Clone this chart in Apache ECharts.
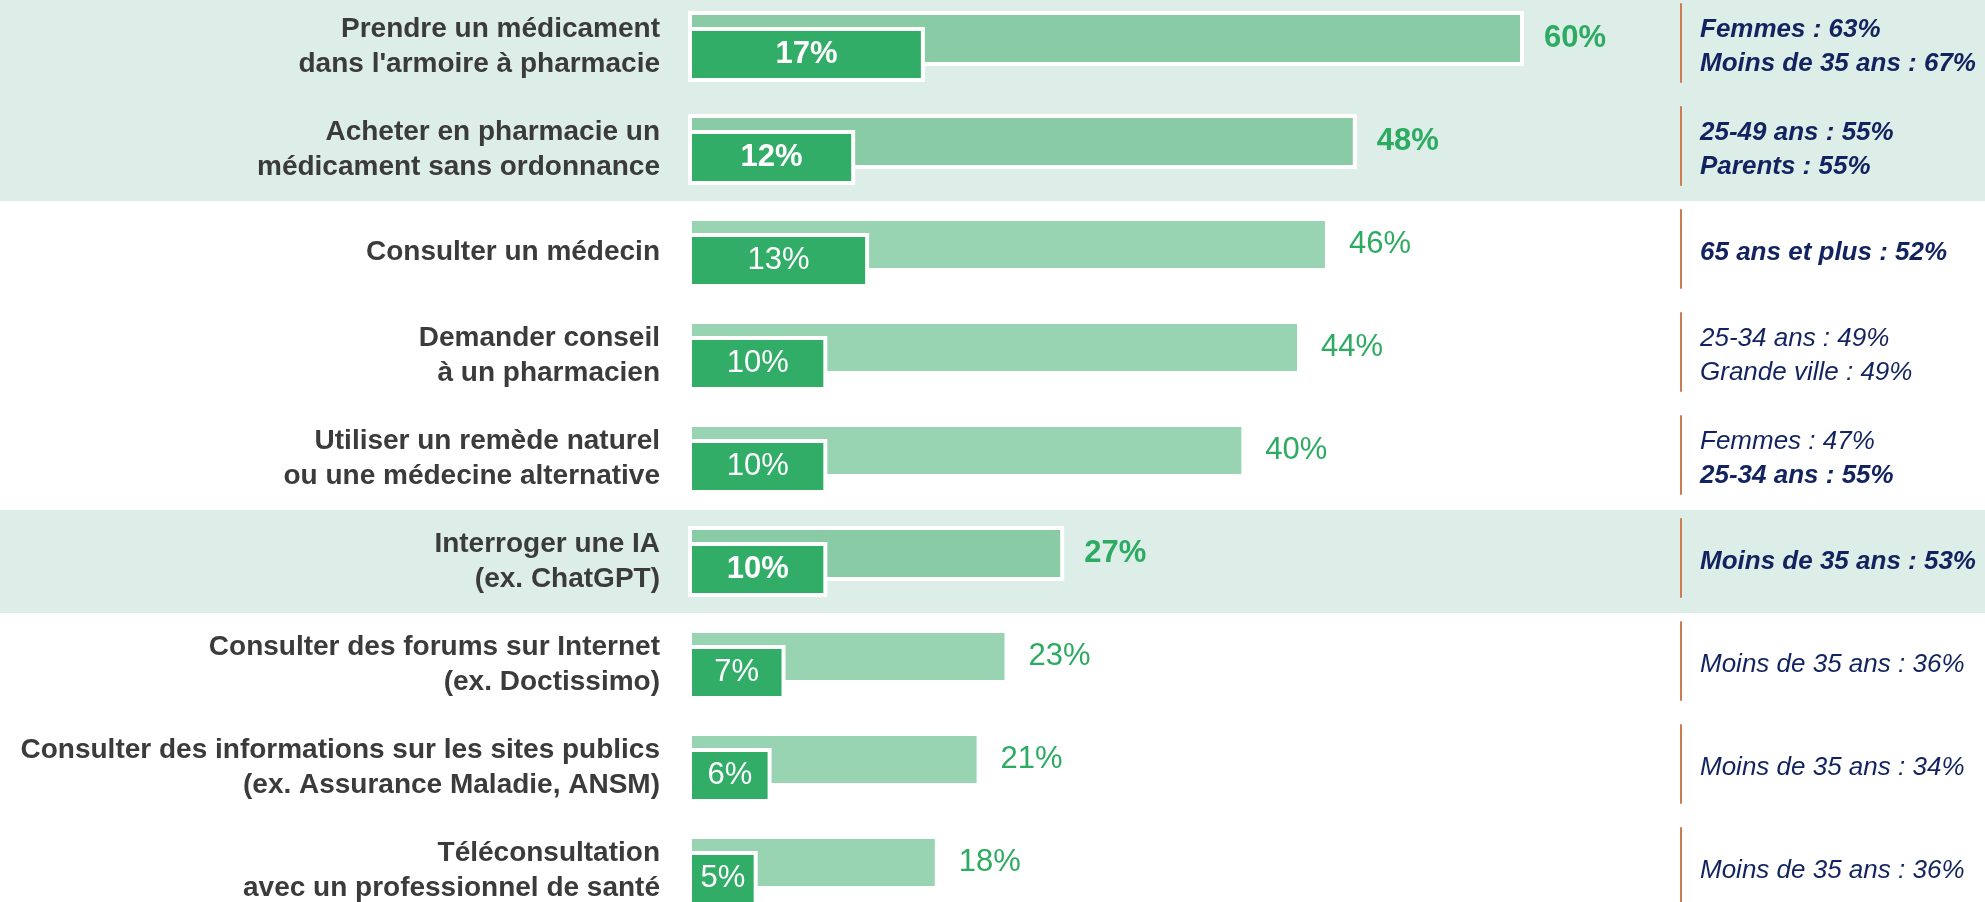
<!DOCTYPE html>
<html>
<head>
<meta charset="utf-8">
<script src="https://cdn.jsdelivr.net/npm/echarts@6/dist/echarts.min.js"></script>
<style>
	html, body { margin: 0; padding: 0; background: #ffffff; overflow: hidden; }
	#solutionsBar { position: absolute; left: 0; top: -5px; width: 1985px; height: 927px; }
</style>
</head>
<body>
<div id="solutionsBar"></div>
<script>
var categories = [
	'Prendre un médicament\ndans l\'armoire à pharmacie',
	'Acheter en pharmacie un\nmédicament sans ordonnance',
	'Consulter un médecin',
	'Demander conseil\nà un pharmacien',
	'Utiliser un remède naturel\nou une médecine alternative',
	'Interroger une IA\n(ex. ChatGPT)',
	'Consulter des forums sur Internet\n(ex. Doctissimo)',
	'Consulter des informations sur les sites publics\n(ex. Assurance Maladie, ANSM)',
	'Téléconsultation\navec un professionnel de santé'
];
// total (light bar) and first choice (dark bar), in %
var totalValues = [60, 48, 46, 44, 40, 27, 23, 21, 18];
var firstValues = [17, 12, 13, 10, 10, 10, 7, 6, 5];
// rows highlighted with a band
var highlightRows = [0, 1, 5];
// sub-group notes on the right
var noteLines = [
	['Femmes : 63%', 'Moins de 35 ans : 67%'],
	['25-49 ans : 55%', 'Parents : 55%'],
	['65 ans et plus : 52%'],
	['25-34 ans : 49%', 'Grande ville : 49%'],
	['Femmes : 47%', '25-34 ans : 55%'],
	['Moins de 35 ans : 53%'],
	['Moins de 35 ans : 36%'],
	['Moins de 35 ans : 34%'],
	['Moins de 35 ans : 36%']
];
var noteBold = [
	[1, 1],
	[1, 1],
	[1],
	[0, 0],
	[0, 1],
	[1],
	[0],
	[0],
	[0]
];

var sb = {
	colors : {
		band : '#ddede7',
		lightHi : '#88cba5',
		light : '#98d4b1',
		dark : '#31ad68',
		label : '#2eab62',
		text : '#3b3b3b',
		note : '#12235f',
		sep : '#cd7b50'
	},

	isHi : function (i){
		return highlightRows.indexOf(i) >= 0;
	},

	totalData : function (){
		var out = [];
		for (var i = 0; i < totalValues.length; i++) {
			var hi = sb.isHi(i);
			out.push({
				value : totalValues[i],
				itemStyle : { color : hi ? sb.colors.lightHi : sb.colors.light },
				label : { fontWeight : hi ? 'bold' : 'normal' }
			});
		}
		return out;
	},

	firstData : function (){
		var out = [];
		for (var i = 0; i < firstValues.length; i++) {
			out.push({
				value : firstValues[i],
				label : { fontWeight : sb.isHi(i) ? 'bold' : 'normal' }
			});
		}
		return out;
	},

	bandColors : function (){
		var out = [];
		for (var i = 0; i < categories.length; i++) {
			out.push(sb.isHi(i) ? sb.colors.band : '#ffffff');
		}
		return out;
	},

	noteText : function (value, index){
		var lines = noteLines[index] || [];
		var parts = [];
		for (var j = 0; j < lines.length; j++) {
			parts.push('{' + (noteBold[index][j] ? 'b' : 'n') + '|' + lines[j] + '}');
		}
		return parts.join('\n');
	},

	options : function (){
		return {
			backgroundColor : '#ffffff',
			animation : false,
			grid : [
				{ left : 0, right : 0, top : 0, bottom : 0 },
				{ left : 688, width : 836, top : 0, bottom : 0 }
			],
			xAxis : [
				{ gridIndex : 0, type : 'value', show : false },
				{ gridIndex : 1, type : 'value', min : 0, max : 60, show : false }
			],
			yAxis : [
				{
					gridIndex : 0, type : 'category', inverse : true, data : categories,
					axisLine : { show : false }, axisTick : { show : false },
					axisLabel : { show : false },
					splitArea : { show : true, interval : 0, areaStyle : { color : sb.bandColors() } }
				},
				{
					gridIndex : 1, type : 'category', inverse : true, data : categories,
					axisLine : { show : false }, axisTick : { show : false },
					axisLabel : {
						interval : 0, margin : 28,
						color : sb.colors.text, fontFamily : 'Liberation Sans',
						fontSize : 28, fontWeight : 'bold', lineHeight : 35, align : 'right'
					}
				},
				{
					gridIndex : 1, type : 'category', inverse : true, data : categories,
					position : 'right', offset : 157,
					axisLine : {
						show : true,
						lineStyle : { color : sb.colors.sep, width : 2, type : [78, 25], dashOffset : 94 }
					},
					axisTick : { show : false },
					axisLabel : {
						interval : 0, margin : 19, align : 'left',
						formatter : sb.noteText,
						rich : {
							b : { fontFamily : 'Liberation Sans', fontSize : 26, fontStyle : 'italic', fontWeight : 'bold', color : sb.colors.note, lineHeight : 34 },
							n : { fontFamily : 'Liberation Sans', fontSize : 26, fontStyle : 'italic', fontWeight : 'normal', color : sb.colors.note, lineHeight : 34 }
						}
					}
				}
			],
			series : [
				{
					name : 'Total', type : 'bar', xAxisIndex : 1, yAxisIndex : 1,
					barWidth : 55, barGap : '-71%',
					itemStyle : { borderColor : '#ffffff', borderWidth : 4 },
					label : {
						show : true, position : 'right', distance : 20,
						formatter : '{c}%', color : sb.colors.label,
						fontFamily : 'Liberation Sans', fontSize : 31
					},
					data : sb.totalData()
				},
				{
					name : 'En premier', type : 'bar', xAxisIndex : 1, yAxisIndex : 1,
					barWidth : 55,
					itemStyle : { color : sb.colors.dark, borderColor : '#ffffff', borderWidth : 4 },
					label : {
						show : true, position : 'inside',
						formatter : '{c}%', color : '#ffffff',
						fontFamily : 'Liberation Sans', fontSize : 31
					},
					data : sb.firstData()
				}
			]
		};
	},

	init : function (){
		var myChart = echarts.init(document.getElementById('solutionsBar'));
		myChart.setOption(sb.options());
	}
};

sb.init();
</script>
</body>
</html>
